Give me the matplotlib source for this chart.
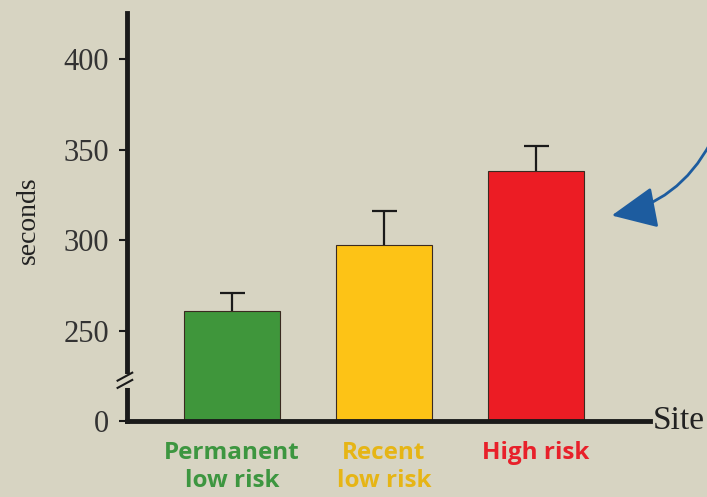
import matplotlib
matplotlib.use("Agg")
import matplotlib.pyplot as plt
from matplotlib.patches import FancyArrowPatch
import matplotlib.lines as mlines

categories = ["Permanent\nlow risk", "Recent\nlow risk", "High risk"]
values = [261, 297, 338]
err_up = [10, 19, 14]
bar_colors = ["#3f963b", "#fdc316", "#ec1c24"]
label_colors = ["#3d9640", "#e6b515", "#e8202a"]
tick_vals = [200, 250, 300, 350, 400]
tick_labels = ["0", "250", "300", "350", "400"]
BASE = 200  # displayed "0" (broken axis)

bg = "#d7d4c2"
fig = plt.figure(figsize=(7.07, 4.97), dpi=100, facecolor=bg)
ax = fig.add_axes([127/707, 1-421/497, (650-127)/707, (421-13)/497])
ax.set_facecolor(bg)

x = list(range(len(values)))
heights = [v - BASE for v in values]
ax.bar(x, heights, bottom=BASE, width=0.63, color=bar_colors,
       edgecolor="#3a2a20", linewidth=0.8, zorder=2)
eb = ax.errorbar(x, values, yerr=[[0]*len(values), err_up], fmt="none",
                 ecolor="#1a1a1a", elinewidth=1.6, capsize=9, capthick=1.6, zorder=3)
caps = eb[1]
if len(caps) >= 2:
    caps[0].set_visible(False)

ax.set_xlim(-0.69, 2.75)
ax.set_ylim(BASE, 425.5)
ax.set_yticks(tick_vals)
ax.set_yticklabels(tick_labels, fontfamily="Liberation Serif", fontsize=22, color="#333333")
ax.set_xticks([])
for s in ["top", "right"]:
    ax.spines[s].set_visible(False)
for s in ["left", "bottom"]:
    ax.spines[s].set_linewidth(3.5)
    ax.spines[s].set_color("#1a1a1a")
ax.tick_params(axis="y", length=6, width=1.5, color="#1a1a1a", pad=7)

fig.text(28/707, 1-220/497, "seconds", rotation=90, ha="center", va="center",
         fontfamily="Liberation Serif", fontsize=20, color="#222222")

# axis break
trans = ax.get_yaxis_transform()
ax.add_line(mlines.Line2D([0, 0], [220.5, 224.5], transform=trans, color=bg, lw=5, zorder=5, clip_on=False))
for yb in (220.5, 224.5):
    ax.add_line(mlines.Line2D([-0.018, 0.010], [yb - 2.2, yb + 2.2], transform=trans,
                              color="#1a1a1a", lw=1.5, zorder=6, clip_on=False))

# category labels
for xi, lab, c in zip(x, categories, label_colors):
    ax.text(xi, 189, lab, ha="center", va="top", fontfamily="Open Sans", fontweight="bold",
            fontsize=17.5, color=c, linespacing=1.2, transform=ax.transData, clip_on=False)

fig.text(653/707, 1-421/497, "Site", ha="left", va="center", fontfamily="Liberation Serif",
         fontsize=24, color="#222222")

# arrow
arr = FancyArrowPatch(posA=(712/707, 1-140/497), posB=(609/707, 1-216/497),
                      transform=fig.transFigure, connectionstyle="arc3,rad=-0.25",
                      arrowstyle="-|>,head_length=28,head_width=13", color="#1d5c9f",
                      lw=2.0, mutation_scale=1)
fig.patches.append(arr)

fig.savefig("out.png", dpi=100, facecolor=bg)
